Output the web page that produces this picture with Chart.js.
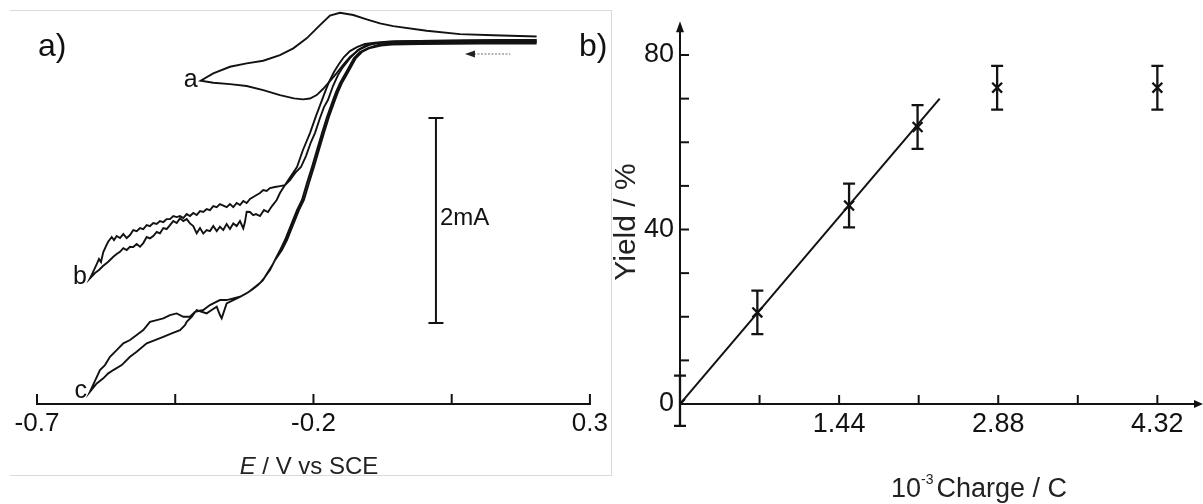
<!DOCTYPE html>
<html><head><meta charset="utf-8">
<script src="https://cdn.jsdelivr.net/npm/chart.js@4.4.1/dist/chart.umd.min.js"></script>
<style>
html,body{margin:0;padding:0;background:#fff;}
#wrap{position:relative;width:1203px;height:504px;overflow:hidden;background:#fff;font-family:"Liberation Sans",Arial,sans-serif;}
#ca{position:absolute;left:0;top:0;}
#cb{position:absolute;left:612px;top:0;}
.frame{position:absolute;background:#dadada;}
.plabel{position:absolute;font-size:32px;color:#111;line-height:1;}
</style></head>
<body><div id="wrap">
<div class="frame" style="left:10px;top:10px;width:602px;height:1px"></div>
<div class="frame" style="left:10px;top:475px;width:602px;height:1px"></div>
<div class="frame" style="left:611px;top:10px;width:1px;height:466px"></div>
<canvas id="ca" width="612" height="504"></canvas>
<canvas id="cb" width="591" height="504"></canvas>
<div class="plabel" style="left:38px;top:29px">a)</div>
<div class="plabel" style="left:579px;top:29px">b)</div>
</div>
<script>
// ---------- Panel a: cyclic voltammograms (E / V vs SCE, I / mA) ----------
const xTicksA = [-0.7, -0.45, -0.2, 0.05, 0.3];
const xTickLabelsA = ['-0.7', '', '-0.2', '', '0.3'];
const curveLabels = ['a', 'b', 'c'];

const aFwdE = [0.2036, 0.1373, 0.0649, -0.0074, -0.0526, -0.0797, -0.0978, -0.1159, -0.1340, -0.1467, -0.1580, -0.1702, -0.1828, -0.1942, -0.2063, -0.2190, -0.2353, -0.2606, -0.2908, -0.3208, -0.3510, -0.3812, -0.4040];
const aFwdI = [0.010, 0.010, 0.005, 0, -0.005, -0.015, -0.034, -0.078, -0.156, -0.234, -0.312, -0.390, -0.468, -0.527, -0.561, -0.569, -0.559, -0.527, -0.478, -0.439, -0.420, -0.407, -0.387];
const aRevE = [-0.3812, -0.3510, -0.3208, -0.2908, -0.2606, -0.2365, -0.2123, -0.1882, -0.1702, -0.1521, -0.1280, -0.1038, -0.0797, -0.0557, 0.0047, 0.0649, 0.1251, 0.2036];
const aRevI = [-0.315, -0.251, -0.218, -0.192, -0.137, -0.071, 0.026, 0.156, 0.249, 0.276, 0.254, 0.212, 0.173, 0.146, 0.100, 0.068, 0.056, 0.044];

const bFwdE = [0.2036, 0.1011, -0.0074, -0.0617, -0.0888, -0.1069, -0.1214, -0.1340, -0.1449, -0.1539, -0.1629, -0.1720, -0.1792, -0.1846, -0.1955, -0.2063, -0.2190, -0.2298, -0.2407, -0.2515,
  -0.2606, -0.2665, -0.2750, -0.2823, -0.2895, -0.2967, -0.3040, -0.3089, -0.3148, -0.3208, -0.3239, -0.3269, -0.3329, -0.3389, -0.3450, -0.3510, -0.3570, -0.3631, -0.3691, -0.3750, -0.3812, -0.3872, -0.3931, -0.3993, -0.4052, -0.4112, -0.4174, -0.4233, -0.4293, -0.4354, -0.4414, -0.4474, -0.4535, -0.4595, -0.4655, -0.4716, -0.4776, -0.4835, -0.4897, -0.4957, -0.5016, -0.5078, -0.5137, -0.5197, -0.5259, -0.5318, -0.5378, -0.5439, -0.5499, -0.5559, -0.5620, -0.5716, -0.5807, -0.5879, -0.5951, -0.6042];
const bFwdI = [0.005, 0.005, 0, -0.005, -0.015, -0.029, -0.059, -0.098, -0.156, -0.224, -0.302, -0.400, -0.498, -0.576, -0.732, -0.898, -1.063, -1.229, -1.317, -1.405,
  -1.483, -1.551, -1.610, -1.668, -1.649, -1.707, -1.688, -1.698, -1.668, -1.665, -1.766, -1.827, -1.756, -1.805, -1.779, -1.834, -1.785, -1.844, -1.812, -1.854, -1.805, -1.854, -1.844, -1.878, -1.824, -1.876, -1.805, -1.779, -1.737, -1.756, -1.730, -1.776, -1.756, -1.795, -1.834, -1.824, -1.876, -1.863, -1.902, -1.925, -1.912, -1.971, -2.007, -1.980, -2.010, -2.007, -2.039, -2.020, -2.056, -2.078, -2.104, -2.156, -2.195, -2.234, -2.263, -2.315];
const bRevE = [-0.6042, -0.5987, -0.5920, -0.5879, -0.5843, -0.5801, -0.5752, -0.5716, -0.5649, -0.5608,
  -0.5559, -0.5499, -0.5439, -0.5378, -0.5318, -0.5259, -0.5197, -0.5137, -0.5078, -0.5016,
  -0.4957, -0.4897, -0.4835, -0.4776, -0.4716, -0.4655, -0.4595, -0.4535, -0.4474, -0.4414,
  -0.4354, -0.4293, -0.4233, -0.4174, -0.4112, -0.4052, -0.3993, -0.3931, -0.3872, -0.3812,
  -0.3750, -0.3691, -0.3631, -0.3570, -0.3510, -0.3450, -0.3389, -0.3329, -0.3269, -0.3208,
  -0.3148, -0.3089, -0.3028, -0.2967, -0.2908, -0.2847, -0.2787, -0.2696, -0.2606, -0.2515,
  -0.2425, -0.2317, -0.2226, -0.2136, -0.2045, -0.1973, -0.1882, -0.1810, -0.1738, -0.1647,
  -0.1557, -0.1467, -0.1340, -0.1196, -0.1033, -0.0852, -0.0526, 0.0107, 0.1011, 0.2036];
const bRevI = [-2.315, -2.254, -2.176, -2.127, -2.156, -2.059, -2.000, -1.961, -1.912, -1.941,
  -1.902, -1.922, -1.883, -1.922, -1.893, -1.844, -1.854, -1.824, -1.834, -1.795,
  -1.805, -1.776, -1.785, -1.756, -1.766, -1.737, -1.737, -1.707, -1.717, -1.707,
  -1.727, -1.688, -1.707, -1.678, -1.698, -1.659, -1.668, -1.639, -1.649, -1.610,
  -1.620, -1.590, -1.605, -1.620, -1.590, -1.620, -1.580, -1.600, -1.561, -1.580,
  -1.541, -1.522, -1.502, -1.483, -1.454, -1.463, -1.434, -1.424, -1.415, -1.405,
  -1.356, -1.278, -1.229, -1.122, -0.985, -0.898, -0.751, -0.644, -0.576, -0.439,
  -0.332, -0.254, -0.166, -0.088, -0.039, -0.020, -0.015, -0.010, -0.010, -0.010];

const cFwdE = [0.2036, 0.1011, 0.0107, -0.0436, -0.0617, -0.0834, -0.1014, -0.1159, -0.1268, -0.1358, -0.1448, -0.1521, -0.1593, -0.1647, -0.1756, -0.1846, -0.1937, -0.2027, -0.2118, -0.2208, -0.2298, -0.2407, -0.2515, -0.2604, -0.2678, -0.2732, -0.2823, -0.2913, -0.3004, -0.3094, -0.3208, -0.3329,
  -0.3450, -0.3570, -0.3600, -0.3660, -0.3691, -0.3750, -0.3841, -0.3931, -0.4022, -0.4112, -0.4203, -0.4293, -0.4324, -0.4414, -0.4564, -0.4716, -0.4866, -0.5016, -0.5197, -0.5318, -0.5468, -0.5620, -0.5711, -0.5801, -0.5920, -0.6042];
const cFwdI = [-0.010, -0.010, -0.015, -0.020, -0.024, -0.039, -0.068, -0.107, -0.166, -0.254, -0.341, -0.410, -0.498, -0.576, -0.741, -0.898, -1.063, -1.229, -1.385, -1.551, -1.649, -1.795, -1.941, -2.039, -2.117, -2.176, -2.254, -2.332, -2.380, -2.420, -2.461, -2.495,
  -2.527, -2.559, -2.608, -2.705, -2.673, -2.592, -2.624, -2.657, -2.641, -2.624, -2.690, -2.739, -2.771, -2.820, -2.852, -2.885, -2.917, -2.949, -3.031, -3.080, -3.161, -3.210, -3.242, -3.291, -3.340, -3.421];
const cRevE = [-0.6042, -0.5861, -0.5771, -0.5680, -0.5559, -0.5439, -0.5318, -0.5197, -0.5078, -0.4957, -0.4835, -0.4716, -0.4595, -0.4474, -0.4354, -0.4233, -0.4143, -0.3993, -0.3872, -0.3812, -0.3691, -0.3570, -0.3450, -0.3329,
  -0.3172, -0.3058, -0.2967, -0.2877, -0.2787, -0.2696, -0.2570, -0.2479, -0.2371, -0.2262, -0.2172, -0.2081, -0.1991, -0.1901, -0.1810, -0.1720, -0.1611, -0.1557, -0.1485, -0.1412, -0.1322, -0.1232, -0.1123, -0.0978, -0.0779, -0.0580, -0.0074, 0.1011, 0.2036];
const cRevI = [-3.421, -3.210, -3.161, -3.080, -3.015, -2.949, -2.917, -2.868, -2.820, -2.739, -2.722, -2.705, -2.673, -2.657, -2.690, -2.690, -2.641, -2.624, -2.576, -2.559, -2.527, -2.527, -2.510, -2.495,
  -2.449, -2.400, -2.361, -2.302, -2.234, -2.137, -2.039, -1.941, -1.795, -1.649, -1.551, -1.385, -1.229, -1.063, -0.898, -0.741, -0.576, -0.498, -0.410, -0.341, -0.254, -0.166, -0.107, -0.068, -0.044, -0.034, -0.029, -0.024, -0.024];

const scaleBarE = 0.0215;
const scaleBarI = [-0.751, -2.751];
const scaleBarLabel = '2mA';
const scanArrowE = [0.074, 0.156];
const scanArrowI = -0.127;

// ---------- Panel b: yield vs charge ----------
const chargeTicks = [0, 0.72, 1.44, 2.16, 2.88, 3.60, 4.32];
const chargeTickLabels = ['', '', '1.44', '', '2.88', '', '4.32'];
const yieldTicks = [0, 10, 20, 30, 40, 50, 60, 70, 80];
const yieldTickLabels = ['0', '', '', '', '40', '', '', '', '80'];
const charge = [0, 0.70, 1.53, 2.15, 2.87, 4.32];
const yieldPct = [0, 21, 45.5, 63.5, 72.5, 72.5];
const errUp = [6.5, 5, 5, 5, 5, 5];
const errDown = [5, 5, 5, 5, 5, 5];
const fitCharge = [0, 2.35];
const fitYield = [0, 70];

const FONT = '"Liberation Sans", Arial, Helvetica, sans-serif';
Chart.defaults.font.family = FONT;
const INK = '#121212';
const zip = (xs, ys) => xs.map((v, i) => ({x: v, y: ys[i]}));
const cvCurves = [[aFwdE, aFwdI, aRevE, aRevI], [bFwdE, bFwdI, bRevE, bRevI], [cFwdE, cFwdI, cRevE, cRevI]];

const cvDatasets = cvCurves.map(c => ({
  data: zip(c[0].concat(c[2]), c[1].concat(c[3])),
  showLine: true, borderColor: INK, borderWidth: 1.9, pointRadius: 0, tension: 0, fill: false
}));
cvDatasets.push({
  data: zip([scaleBarE, scaleBarE], scaleBarI),
  showLine: true, borderColor: INK, borderWidth: 2, pointStyle: 'line', pointRadius: 7.5,
  pointBorderColor: INK, pointBorderWidth: 2
});

const decorA = {
  id: 'decorA',
  afterDraw(chart) {
    const {ctx, chartArea, scales: {x, y}} = chart;
    ctx.save();
    ctx.strokeStyle = INK; ctx.fillStyle = INK; ctx.lineWidth = 2;
    const yb = chartArea.bottom;
    ctx.beginPath();
    ctx.moveTo(x.getPixelForValue(xTicksA[0]) - 1, yb);
    ctx.lineTo(x.getPixelForValue(xTicksA[xTicksA.length - 1]) + 1, yb);
    ctx.stroke();
    xTicksA.forEach(v => {
      const px = x.getPixelForValue(v);
      ctx.beginPath(); ctx.moveTo(px, yb); ctx.lineTo(px, yb - 10); ctx.stroke();
    });
    // scale bar label
    ctx.font = '24px ' + FONT; ctx.textAlign = 'left'; ctx.textBaseline = 'middle';
    ctx.fillText(scaleBarLabel, x.getPixelForValue(scaleBarE) + 4, y.getPixelForValue((scaleBarI[0] + scaleBarI[1]) / 2) - 2);
    // curve labels at the negative turning point of each trace
    ctx.font = '25px ' + FONT; ctx.textAlign = 'right'; ctx.textBaseline = 'alphabetic';
    cvCurves.forEach((c, k) => {
      const n = c[0].length - 1;
      ctx.fillText(curveLabels[k], x.getPixelForValue(c[0][n]) - 3, y.getPixelForValue(c[1][n]) + 6);
    });
    // scan direction arrow
    const ax0 = x.getPixelForValue(scanArrowE[0]), ax1 = x.getPixelForValue(scanArrowE[1]);
    const ay = y.getPixelForValue(scanArrowI);
    ctx.strokeStyle = '#9a9a9a'; ctx.lineWidth = 1.5; ctx.setLineDash([2, 1.5]);
    ctx.beginPath(); ctx.moveTo(ax0 + 9, ay); ctx.lineTo(ax1, ay); ctx.stroke();
    ctx.setLineDash([]);
    ctx.fillStyle = '#222';
    ctx.beginPath(); ctx.moveTo(ax0, ay); ctx.lineTo(ax0 + 10, ay - 3.5); ctx.lineTo(ax0 + 10, ay + 3.5); ctx.closePath(); ctx.fill();
    // axis title with italic E
    ctx.fillStyle = '#222'; ctx.textAlign = 'left'; ctx.textBaseline = 'alphabetic';
    ctx.font = 'italic 24px ' + FONT;
    const w1 = ctx.measureText('E').width;
    ctx.font = '24px ' + FONT;
    const rest = ' / V vs SCE';
    const w2 = ctx.measureText(rest).width;
    const sx = 309 - (w1 + w2) / 2;
    ctx.font = 'italic 24px ' + FONT; ctx.fillText('E', sx, 474);
    ctx.font = '24px ' + FONT; ctx.fillText(rest, sx + w1, 474);
    ctx.restore();
  }
};

new Chart(document.getElementById('ca'), {
  type: 'scatter',
  data: {datasets: cvDatasets},
  options: {
    responsive: false, animation: false,
    layout: {padding: {left: 37, right: 22, top: 10.3, bottom: 0}, autoPadding: false},
    plugins: {legend: {display: false}, tooltip: {enabled: false}},
    scales: {
      x: {
        type: 'linear', min: -0.7, max: 0.3,
        grid: {display: false, drawTicks: false}, border: {display: false},
        afterBuildTicks: s => { s.ticks = xTicksA.map(v => ({value: v})); },
        afterFit: s => { s.height = 100; },
        ticks: {autoSkip: false, maxRotation: 0, padding: 4, color: INK, font: {size: 26},
          callback: (v, i) => xTickLabelsA[i]}
      },
      y: {type: 'linear', min: -3.541, max: 0.30, display: false}
    }
  },
  plugins: [decorA]
});

// ---------- Panel b chart ----------
const decorB = {
  id: 'decorB',
  afterDatasetsDraw(chart) {
    const {ctx, chartArea, scales: {x, y}} = chart;
    ctx.save();
    ctx.strokeStyle = INK; ctx.fillStyle = INK; ctx.lineWidth = 2.3;
    // error bars
    charge.forEach((c, i) => {
      const px = x.getPixelForValue(c);
      const y1 = y.getPixelForValue(yieldPct[i] + errUp[i]);
      const y2 = y.getPixelForValue(yieldPct[i] - errDown[i]);
      ctx.beginPath();
      ctx.moveTo(px, y1); ctx.lineTo(px, y2);
      ctx.moveTo(px - 6, y1); ctx.lineTo(px + 6, y1);
      ctx.moveTo(px - 6, y2); ctx.lineTo(px + 6, y2);
      ctx.stroke();
    });
    ctx.lineWidth = 2;
    const x0 = x.getPixelForValue(0), y0 = y.getPixelForValue(0);
    // y axis with arrow
    ctx.beginPath(); ctx.moveTo(x0, y0 + 1); ctx.lineTo(x0, chartArea.top + 6); ctx.stroke();
    ctx.beginPath(); ctx.moveTo(x0, chartArea.top - 1); ctx.lineTo(x0 - 4, chartArea.top + 10); ctx.lineTo(x0 + 4, chartArea.top + 10); ctx.closePath(); ctx.fill();
    yieldTicks.forEach(v => {
      const py = y.getPixelForValue(v);
      ctx.beginPath(); ctx.moveTo(x0, py); ctx.lineTo(x0 + 9, py); ctx.stroke();
    });
    // x axis with arrow
    ctx.beginPath(); ctx.moveTo(x0 - 1, y0); ctx.lineTo(chartArea.right - 4, y0); ctx.stroke();
    ctx.beginPath(); ctx.moveTo(chartArea.right + 1, y0); ctx.lineTo(chartArea.right - 8, y0 - 4); ctx.lineTo(chartArea.right - 8, y0 + 4); ctx.closePath(); ctx.fill();
    chargeTicks.forEach(v => {
      if (v === 0) return;
      const px = x.getPixelForValue(v);
      ctx.beginPath(); ctx.moveTo(px, y0); ctx.lineTo(px, y0 - 9); ctx.stroke();
    });
    // axis titles
    ctx.fillStyle = '#222';
    ctx.save();
    ctx.translate(14.5, 222); ctx.rotate(-Math.PI / 2);
    ctx.font = '30px ' + FONT; ctx.textAlign = 'center'; ctx.textBaseline = 'middle';
    ctx.fillText('Yield / %', 0, 0);
    ctx.restore();
    ctx.textAlign = 'left'; ctx.textBaseline = 'alphabetic';
    ctx.font = '27px ' + FONT; const wA = ctx.measureText('10').width;
    ctx.font = '14px ' + FONT; const wB = ctx.measureText('-3').width;
    ctx.font = '27px ' + FONT; const wC = ctx.measureText('Charge / C').width;
    let sx = 367 - (wA + wB + 3 + wC) / 2;
    ctx.font = '27px ' + FONT; ctx.fillText('10', sx, 497);
    ctx.font = '14px ' + FONT; ctx.fillText('-3', sx + wA, 484);
    ctx.font = '27px ' + FONT; ctx.fillText('Charge / C', sx + wA + wB + 3, 497);
    ctx.restore();
  }
};

new Chart(document.getElementById('cb'), {
  type: 'scatter',
  data: {datasets: [
    {data: zip(fitCharge, fitYield), showLine: true, borderColor: INK, borderWidth: 2, pointRadius: 0},
    {data: zip(charge, yieldPct), showLine: false, pointStyle: 'crossRot', pointRadius: 7,
     pointBorderColor: INK, pointBorderWidth: 2.3, borderColor: INK}
  ]},
  options: {
    responsive: false, animation: false,
    layout: {padding: {left: 0, right: 1, top: 22.3, bottom: 0}, autoPadding: false},
    plugins: {legend: {display: false}, tooltip: {enabled: false}},
    scales: {
      x: {
        type: 'linear', min: 0, max: 4.724,
        grid: {display: false, drawTicks: false}, border: {display: false},
        afterBuildTicks: s => { s.ticks = chargeTicks.map(v => ({value: v})); },
        afterFit: s => { s.height = 100; },
        ticks: {autoSkip: false, maxRotation: 0, padding: 4, color: INK, font: {size: 27},
          callback: (v, i) => chargeTickLabels[i]}
      },
      y: {
        type: 'linear', min: 0, max: 87.5,
        grid: {display: false, drawTicks: false}, border: {display: false},
        afterBuildTicks: s => { s.ticks = yieldTicks.map(v => ({value: v})); },
        afterFit: s => { s.width = 68; },
        ticks: {autoSkip: false, padding: 6, color: INK, font: {size: 27},
          callback: (v, i) => yieldTickLabels[i]}
      }
    }
  },
  plugins: [decorB]
});
</script>
</body></html>
